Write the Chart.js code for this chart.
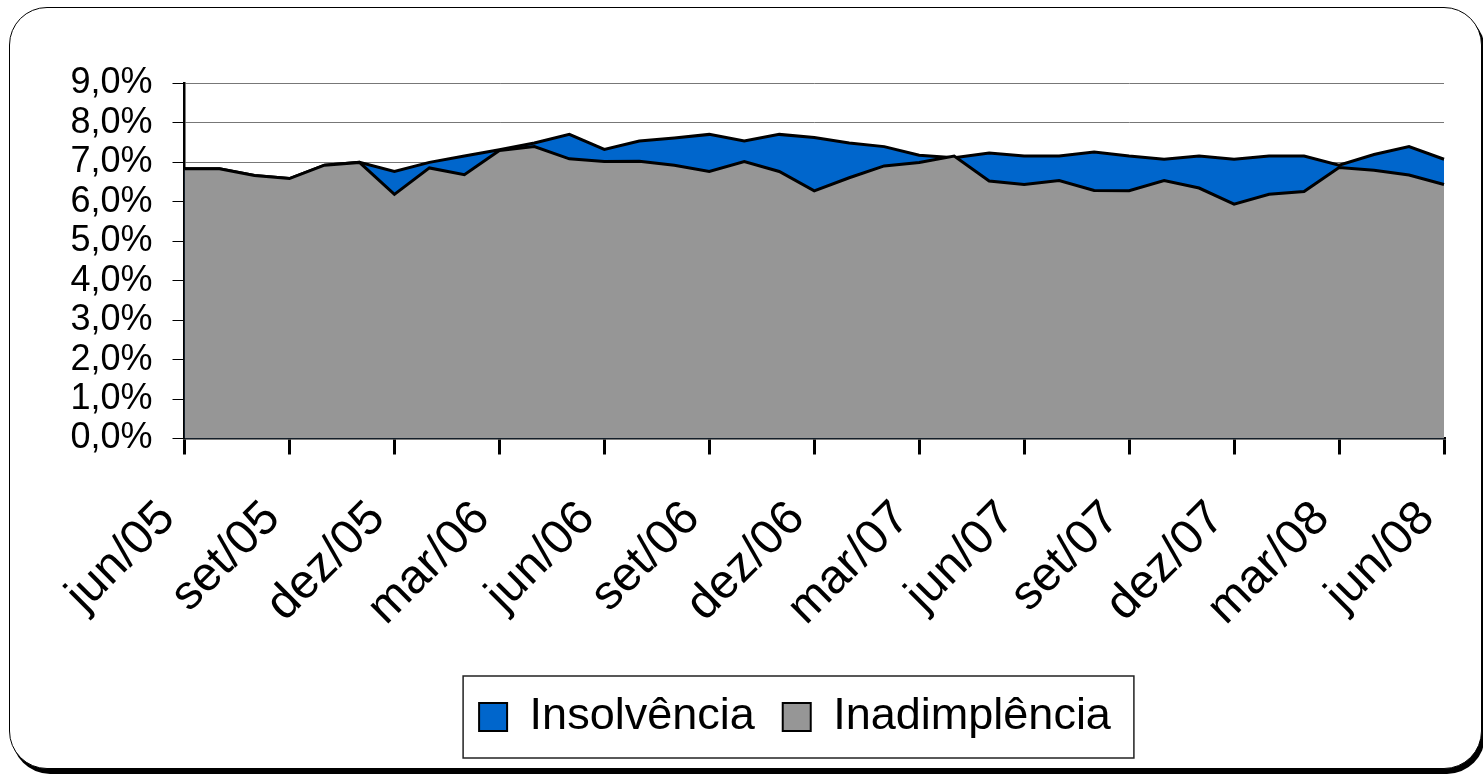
<!DOCTYPE html>
<html>
<head>
<meta charset="utf-8">
<script src="https://cdn.jsdelivr.net/npm/chart.js@4"></script>
<style>
  html,body{margin:0;padding:0;background:#fff;}
  #frame{position:absolute;left:9px;top:7px;width:1471px;height:760px;border:1.5px solid #000;border-radius:38px;box-shadow:3px 5px 0 #000;background:#fff;}
  #myChart{position:absolute;left:0;top:0;}
</style>
</head>
<body>
<div id="frame"></div>
<canvas id="myChart" width="1483" height="775"></canvas>
<script>
// meses jun/05 .. jun/08
const meses = ['jun/05','jul/05','ago/05','set/05','out/05','nov/05','dez/05','jan/06','fev/06','mar/06','abr/06','mai/06',
  'jun/06','jul/06','ago/06','set/06','out/06','nov/06','dez/06','jan/07','fev/07','mar/07','abr/07','mai/07',
  'jun/07','jul/07','ago/07','set/07','out/07','nov/07','dez/07','jan/08','fev/08','mar/08','abr/08','mai/08','jun/08'];

// valores em %
const insolvencia = [6.84,6.84,6.67,6.59,6.93,7.00,6.77,7.00,7.16,7.32,7.49,7.71,
  7.33,7.54,7.62,7.71,7.54,7.71,7.63,7.49,7.40,7.18,7.12,7.24,
  7.16,7.16,7.26,7.16,7.08,7.16,7.08,7.16,7.16,6.93,7.20,7.40,7.08];
const inadimplencia = [6.84,6.84,6.67,6.59,6.93,7.00,6.19,6.86,6.69,7.30,7.40,7.09,
  7.02,7.03,6.93,6.77,7.02,6.77,6.28,6.61,6.91,7.00,7.16,6.53,
  6.44,6.54,6.29,6.28,6.54,6.35,5.94,6.19,6.26,6.87,6.80,6.68,6.44];

const yMin = 0, yMax = 9, yStep = 1;
const tickEvery = 3;

const yFont = {family:"'Liberation Sans', Arial, sans-serif", size:36};
const xFont = {family:"'Liberation Sans', Arial, sans-serif", size:48};
const legFont = {family:"'Liberation Sans', Arial, sans-serif", size:45};

// legenda deslocada p/ direita + caixa em volta
const legendBox = {
  id:'legendBox',
  afterLayout(chart){
    chart.legend.left += 73;
    chart.legend.right += 73;
  },
  afterDraw(chart){
    const lg = chart.legend, hb = lg.legendHitBoxes;
    if(!hb || !hb.length) return;
    const last = hb[hb.length-1];
    const l = hb[0].left - 16, r = last.left + last.width + 23;
    const ctx = chart.ctx;
    ctx.save();
    ctx.strokeStyle = '#222';
    ctx.lineWidth = 1.5;
    ctx.strokeRect(l, lg.top + 9.5, r - l, 82);
    ctx.restore();
  }
};

new Chart(document.getElementById('myChart').getContext('2d'), {
  type:'line',
  data:{
    labels: meses,
    datasets:[
      {label:'Insolvência', data:insolvencia, order:1, fill:'origin',
       backgroundColor:'#0066CC', borderColor:'#000', borderWidth:3,
       pointRadius:0, tension:0},
      {label:'Inadimplência', data:inadimplencia, order:0, fill:'origin',
       backgroundColor:'#969696', borderColor:'#000', borderWidth:3,
       pointRadius:0, tension:0}
    ]
  },
  options:{
    responsive:false,
    animation:false,
    layout:{padding:{left:0, top:83.5, right:39, bottom:25.5}},
    plugins:{
      tooltip:{enabled:false},
      legend:{
        position:'bottom',
        labels:{
          font:legFont, color:'#000', boxWidth:28, boxHeight:28, padding:28,
          sort:(a,b)=>a.datasetIndex-b.datasetIndex,
          generateLabels(chart){
            const items = Chart.defaults.plugins.legend.labels.generateLabels(chart);
            items.forEach(it=>{ it.lineWidth = 2; });
            return items;
          }
        }
      }
    },
    scales:{
      x:{
        offset:false,
        afterFit(scale){ scale.height = 228; scale.paddingLeft = 0; scale.paddingRight = 0; },
        grid:{
          drawOnChartArea:true, drawTicks:true, tickLength:16, tickColor:'#000',
          color:ctx => ctx.index === meses.length-1 ? '#999' : 'rgba(0,0,0,0)',
          lineWidth:3
        },
        border:{display:true, color:'#000', width:2.5},
        ticks:{
          autoSkip:false, maxRotation:45, minRotation:45, padding:36, labelOffset:-17,
          font:xFont, color:'#000',
          callback:(v,i)=> i % tickEvery === 0 ? meses[i] : null
        }
      },
      y:{
        min:yMin, max:yMax,
        afterFit(scale){ scale.width = 184.5; },
        grid:{color:'#777', lineWidth:1, tickLength:12, tickColor:'#000'},
        border:{display:true, color:'#000', width:2.5},
        ticks:{
          stepSize:yStep, autoSkip:false, padding:20, font:yFont, color:'#000',
          callback:v => v.toFixed(1).replace('.', ',') + '%'
        }
      }
    }
  },
  plugins:[legendBox]
});
</script>
</body>
</html>
